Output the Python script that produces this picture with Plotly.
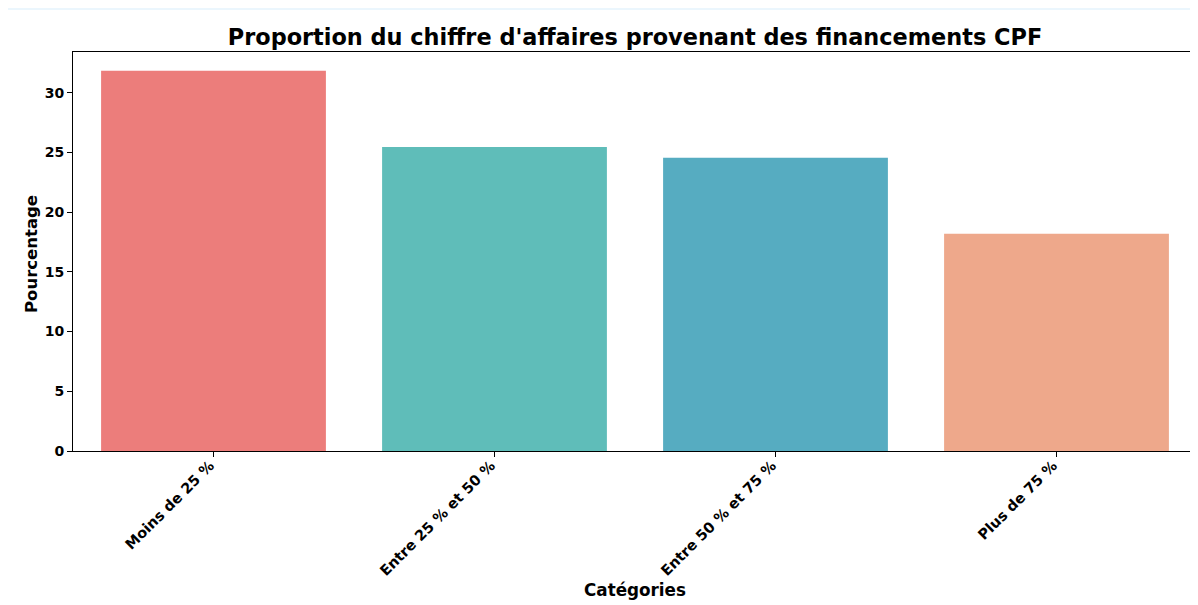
import plotly.graph_objects as go

# Data
categories = ["Moins de 25 %", "Entre 25 % et 50 %", "Entre 50 % et 75 %", "Plus de 75 %"]
percentages = [31.82, 25.45, 24.55, 18.18]
bar_colors = ["#EC7D7B", "#5FBDB9", "#56ACC1", "#EEA88B"]
y_ticks = [0, 5, 10, 15, 20, 25, 30]

FONT = "DejaVu Sans"
W, H = 1190, 597          # the page body adds an 8px margin
L, R, T, B = 65, 1, 44, 154
PW, PH = W - L - R, H - T - B

fig = go.Figure()

fig.add_trace(go.Bar(
    x=list(range(len(categories))),
    y=percentages,
    width=0.8,
    marker=dict(color=bar_colors, line=dict(width=0)),
    hovertemplate='%{text}<br>%{y:.2f} %<extra></extra>',
    text=categories,
    textposition='none',
))

# white card on the light blue page
fig.add_shape(type="rect", xref="paper", yref="paper",
              x0=-L / PW - 0.01, x1=1 + 2 / PW,
              y0=-B / PH - 0.01, y1=1 + (T - 2) / PH,
              fillcolor="white", line=dict(width=0), layer="below")

fig.update_layout(
    width=W, height=H,
    paper_bgcolor="#EBF6FD",
    plot_bgcolor="white",
    margin=dict(l=L, r=R, t=T, b=B, autoexpand=False),
    showlegend=False,
    font=dict(family=FONT, color="black"),
    title=dict(
        text="Proportion du chiffre d'affaires provenant des financements CPF",
        font=dict(family=FONT, size=22.4, weight="bold", color="black"),
        x=(L + PW / 2) / W, xanchor="center",
        y=1 - 29 / H, yanchor="middle", yref="container",
    ),
    annotations=[
        dict(text="Catégories", xref="paper", yref="paper",
             x=0.5, y=-(582 - (T + PH)) / PH, xanchor="center", yanchor="middle",
             showarrow=False, font=dict(family=FONT, size=16.8, weight="bold")),
        dict(text="Pourcentage", xref="paper", yref="paper", textangle=-90,
             x=-(L - 23) / PW, y=(T + PH - 246) / PH, xanchor="center", yanchor="middle",
             showarrow=False, font=dict(family=FONT, size=16.5, weight="bold")),
    ],
)

fig.update_xaxes(
    range=[-0.5, 3.5],
    tickmode="array",
    tickvals=list(range(len(categories))),
    # a trailing no-break space nudges the rotated labels away from the tick
    ticktext=[c + "\u00a0" for c in categories],
    tickangle=-45,
    tickfont=dict(family=FONT, size=14.5, weight="bold"),
    ticklabelstandoff=-9,
    ticks="outside", ticklen=5, tickwidth=1, tickcolor="black",
    showline=True, linecolor="black", linewidth=1, mirror=True,
    showgrid=False, zeroline=False, automargin=False,
)

fig.update_yaxes(
    range=[0, 33.4],
    tickmode="array",
    tickvals=y_ticks,
    tickfont=dict(family=FONT, size=14, weight="bold"),
    ticks="outside", ticklen=5, tickwidth=1, tickcolor="black",
    showline=True, linecolor="black", linewidth=1, mirror=True,
    showgrid=False, zeroline=False, automargin=False,
)

fig.write_html("out.html")
